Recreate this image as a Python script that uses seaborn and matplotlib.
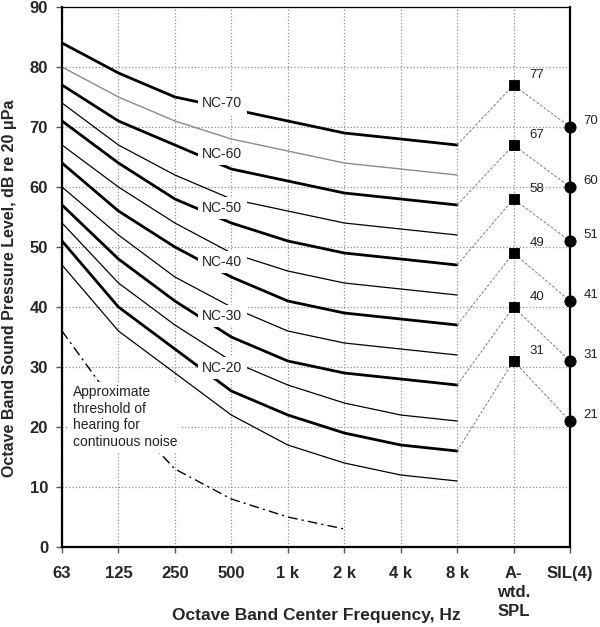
import numpy as np
import pandas as pd
import seaborn as sns
import matplotlib.pyplot as plt

# octave bands + the two single-number columns
bands = ['63', '125', '250', '500', '1 k', '2 k', '4 k', '8 k']
x_labels = bands + ['A-\nwtd.\nSPL', 'SIL(4)']

# NC curves, band levels in dB (63 Hz .. 8 kHz)
nc70 = [84, 79, 75, 73, 71, 69, 68, 67]
nc65 = [80, 75, 71, 68, 66, 64, 63, 62]
nc60 = [77, 71, 67, 63, 61, 59, 58, 57]
nc55 = [74, 67, 62, 58, 56, 54, 53, 52]
nc50 = [71, 64, 58, 54, 51, 49, 48, 47]
nc45 = [67, 60, 54, 49, 46, 44, 43, 42]
nc40 = [64, 56, 50, 45, 41, 39, 38, 37]
nc35 = [60, 52, 45, 40, 36, 34, 33, 32]
nc30 = [57, 48, 41, 35, 31, 29, 28, 27]
nc25 = [54, 44, 37, 31, 27, 24, 22, 21]
nc20 = [51, 40, 33, 26, 22, 19, 17, 16]
nc15 = [47, 36, 29, 22, 17, 14, 12, 11]

# threshold of hearing, 63 Hz .. 2 kHz
threshold = [36, 23, 13, 8, 5, 3]

# single numbers for the labelled curves (NC-70 .. NC-20)
a_wtd = [77, 67, 58, 49, 40, 31]
sil = [70, 60, 51, 41, 31, 21]
nc_names = ['NC-70', 'NC-60', 'NC-50', 'NC-40', 'NC-30', 'NC-20']
nc_label_y = [74, 65.5, 56.5, 47.5, 38.5, 29.8]

curves = {'NC-70': nc70, 'NC-65': nc65, 'NC-60': nc60, 'NC-55': nc55,
          'NC-50': nc50, 'NC-45': nc45, 'NC-40': nc40, 'NC-35': nc35,
          'NC-30': nc30, 'NC-25': nc25, 'NC-20': nc20, 'NC-15': nc15}

rows = []
for name, vals in curves.items():
    for i, v in enumerate(vals):
        rows.append((name, i, v))
df = pd.DataFrame(rows, columns=['curve', 'band', 'level'])

sns.set_theme(style='white')
plt.rcParams['font.family'] = ['Liberation Sans', 'DejaVu Sans']

fig = plt.figure(figsize=(6, 6.27), dpi=100)
ax = fig.add_axes([62 / 600, 80 / 627, 508 / 600, 540 / 627])

# grid first so everything sits on top
ax.set_axisbelow(True)
ax.grid(True, linestyle=':', color='#909090', lw=0.9)

for name in curves:
    d = df[df['curve'] == name]
    if name == 'NC-65':
        col, lw = '#8a8a8a', 1.0
    elif name in nc_names:
        col, lw = 'black', 2.0
    else:
        col, lw = 'black', 0.9
    sns.lineplot(data=d, x='band', y='level', ax=ax, color=col, lw=lw, zorder=2)

# threshold of hearing
sns.lineplot(x=np.arange(len(threshold)), y=threshold, ax=ax, color='black',
             lw=1, linestyle=(0, (7, 3, 1.5, 3)), zorder=2)

# dotted links 8k -> A-wtd -> SIL
n_b = len(bands)
for name, a, s in zip(nc_names, a_wtd, sil):
    end = curves[name][-1]
    ax.plot([n_b - 1, n_b, n_b + 1], [end, a, s], color='#8c8c8c', lw=0.8,
            linestyle=(0, (2.5, 1.5)), zorder=2)

sns.scatterplot(x=[n_b] * len(a_wtd), y=a_wtd, ax=ax, marker='s', s=60,
                color='black', edgecolor='black', zorder=4, clip_on=False)
sns.scatterplot(x=[n_b + 1] * len(sil), y=sil, ax=ax, marker='o', s=65,
                color='black', edgecolor='black', zorder=4, clip_on=False)

for a in a_wtd:
    ax.annotate(str(a), (n_b, a), xytext=(11.5, 7), textcoords='offset points',
                ha='left', va='center', fontsize=9.5, color='#222222')
for s in sil:
    ax.annotate(str(s), (n_b + 1, s), xytext=(9.5, 4.5), textcoords='offset points',
                ha='left', va='center', fontsize=9.5, color='#222222')

# curve labels with white boxes that cut the lines
for name, y in zip(nc_names, nc_label_y):
    ax.text(2.84, y, name, ha='center', va='center', fontsize=10, color='#222222',
            zorder=3, bbox=dict(boxstyle='square,pad=0.3', fc='white', ec='none'))

ax.text(0.19, 27.0, 'Approximate\nthreshold of\nhearing for\ncontinuous noise',
        ha='left', va='top', fontsize=10, color='#222222', linespacing=1.25,
        zorder=3, bbox=dict(boxstyle='square,pad=0.25', fc='white', ec='none'))

ax.set_xlim(0, n_b + 1)
ax.set_ylim(0, 90)
ax.set_xticks(np.arange(len(x_labels)))
ax.set_xticklabels(x_labels)
ax.set_yticks(np.arange(0, 91, 10))
ax.tick_params(axis='x', direction='out', length=4, width=1, color='#555555',
               pad=10, labelsize=12, bottom=True)
ax.tick_params(axis='y', direction='out', length=4, width=1, color='#555555',
               pad=6, labelsize=12, left=True)
for lab in ax.get_xticklabels() + ax.get_yticklabels():
    lab.set_fontweight('bold')
for lab in ax.get_xticklabels():
    lab.set_linespacing(1.3)

for side in ['left', 'bottom', 'right']:
    ax.spines[side].set_color('black')
    ax.spines[side].set_linewidth(1.6)
ax.spines['top'].set_color('black')
ax.spines['top'].set_linewidth(0.9)

ax.set_xlabel('Octave Band Center Frequency, Hz', fontsize=12.5, fontweight='bold')
ax.set_ylabel('Octave Band Sound Pressure Level, dB re 20 μPa', fontsize=11.5,
              fontweight='bold')
ax.xaxis.set_label_coords(0.5, -0.113)
ax.yaxis.set_label_coords(-0.088, 0.48)

fig.savefig('out.png', dpi=100)
